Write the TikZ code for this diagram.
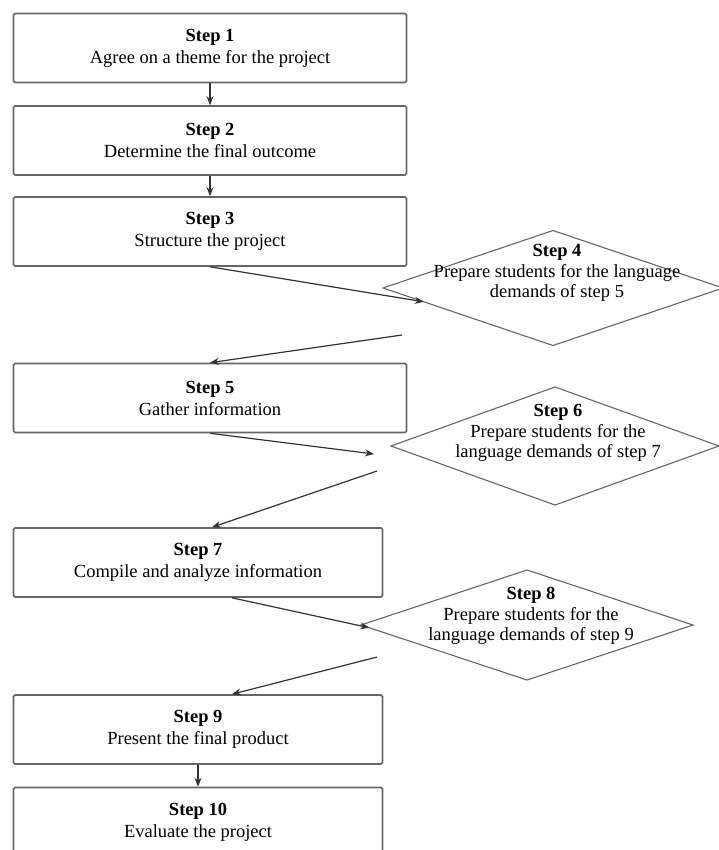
\documentclass[tikz,border=0pt]{standalone}
\usepackage{fontspec}
\setmainfont{Liberation Serif}
\usetikzlibrary{arrows.meta,shapes.geometric,calc}

\tikzset{
  stepbox/.style={draw=black!60, line width=1.6pt, rounded corners=1.5pt,
    minimum width=393pt, minimum height=69pt, inner sep=0pt,
    align=center, font=\fontsize{18.5}{22}\selectfont},
  narrowbox/.style={stepbox, minimum width=369pt},
  choice/.style={diamond, draw=black!60, line width=1.1pt, inner sep=0pt, outer sep=0pt},
  choicetext/.style={align=center, inner sep=0pt, font=\fontsize{18.5}{20.5}\selectfont},
  link/.style={draw=black!80, line width=1.2pt}
}

\begin{document}
\begin{tikzpicture}[x=1pt,y=-1pt,>={Stealth[length=9pt,width=7pt]},->]
\useasboundingbox (0,0) rectangle (719,850);
% main column
\node (s1) at (210,48) [stepbox] {\textbf{Step 1}\\Agree on a theme for the project};
\node (s2) at (210,140.5) [stepbox] {\textbf{Step 2}\\Determine the final outcome};
\node (s3) at (210,231.5) [stepbox] {\textbf{Step 3}\\Structure the project};
\node (s5) at (210,398) [stepbox] {\textbf{Step 5}\\Gather information};
\node (s7) at (198,562.5) [narrowbox] {\textbf{Step 7}\\Compile and analyze information};
\node (s9) at (198,729.5) [narrowbox] {\textbf{Step 9}\\Present the final product};
\node (s10) at (198,822) [narrowbox] {\textbf{Step 10}\\Evaluate the project};
% side steps
\node (s4) at (553,288) [choice, minimum width=340pt, minimum height=115pt,
  label={[choicetext,yshift=15pt,xshift=4pt]center:{\textbf{Step 4}\\Prepare students for the language\\demands of step 5}}] {};
\node (s6) at (555,446) [choice, minimum width=328pt, minimum height=118pt,
  label={[choicetext,yshift=13pt,xshift=3pt]center:{\textbf{Step 6}\\Prepare students for the\\language demands of step 7}}] {};
\node (s8) at (527,625) [choice, minimum width=332pt, minimum height=110pt,
  label={[choicetext,yshift=9pt,xshift=4pt]center:{\textbf{Step 8}\\Prepare students for the\\language demands of step 9}}] {};
% loose ends
\coordinate (c4) at (402,335);
\coordinate (c6in) at (374,454);
\coordinate (c6out) at (377,471);
\coordinate (c8) at (377,657);
\begin{scope}[link]
\draw (s1) -- (s2);
\draw (s2) -- (s3);
\draw (s3.south) -- ($(s4.west)!0.24!(s4.south)$);
\draw (c4) -- (s5.north);
\draw (s5.south) -- (c6in);
\draw (c6out) -- ([xshift=14pt]s7.north);
\draw ([xshift=34pt]s7.south) -- ($(s8.west)!0.05!(s8.south)$);
\draw (c8) -- ([xshift=34pt]s9.north);
\draw (s9) -- (s10);
\end{scope}
\end{tikzpicture}
\end{document}
